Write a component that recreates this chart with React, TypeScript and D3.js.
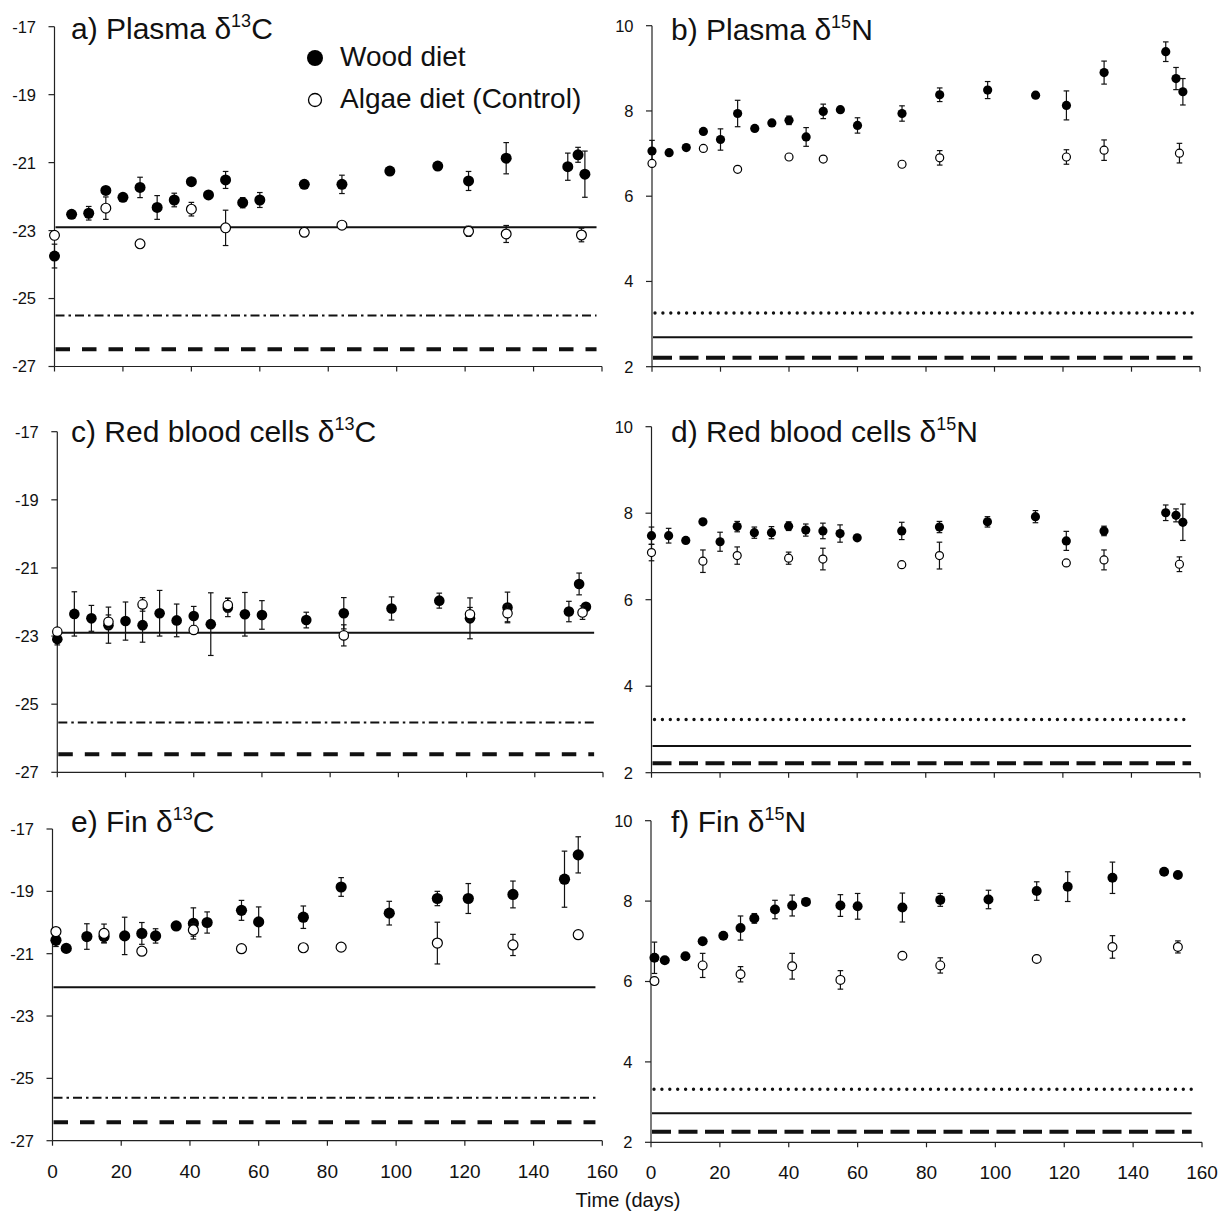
import React from "react";
import * as d3 from "d3";

const W = 1230;
const H = 1214;
const FONT = "'Liberation Sans', Arial, Helvetica, sans-serif";

// ---- sampling days ----
const woodDaysAD = [0, 5, 10, 15, 20, 25, 30, 35, 40, 45, 50, 55, 60, 73, 84, 98, 112, 121, 132, 150, 153, 155];
const algaeDaysAD = [0, 15, 25, 40, 50, 73, 84, 121, 132, 154];
const algaeDaysC = [0, 15, 25, 40, 50, 84, 121, 132, 154];
const woodDaysEF = [1, 4, 10, 15, 21, 26, 30, 36, 41, 45, 55, 60, 73, 84, 98, 112, 121, 134, 149, 153];
const algaeDaysEF = [1, 15, 26, 41, 55, 73, 84, 112, 134, 153];

// ---- ticks ----
const xTicks = [0, 20, 40, 60, 80, 100, 120, 140, 160];
const cTicks = [-27, -25, -23, -21, -19, -17];
const nTicks = [2, 4, 6, 8, 10];

// ---- a) Plasma d13C ----
const plasmaCWood = [-23.75, -22.52, -22.49, -21.82, -22.02, -21.73, -22.32, -22.1, -21.56, -21.95, -21.51, -22.18, -22.1, -21.64, -21.64, -21.25, -21.1, -21.54, -20.87, -21.12, -20.77, -21.34];
const plasmaCWoodErr = [0.35, 0.08, 0.2, 0.1, 0.08, 0.3, 0.35, 0.2, 0.08, 0.06, 0.25, 0.15, 0.22, 0.1, 0.27, 0.05, 0.1, 0.28, 0.46, 0.4, 0.22, 0.68];
const plasmaCAlgae = [-23.14, -22.34, -23.39, -22.37, -22.92, -23.05, -22.84, -23.02, -23.1, -23.13];
const plasmaCAlgaeErr = [0.05, 0.33, 0, 0.2, 0.52, 0, 0.08, 0.15, 0.25, 0.2];
const plasmaCRef = [-22.9, -25.5, -26.49];

// ---- b) Plasma d15N ----
const plasmaNWood = [7.06, 7.02, 7.14, 7.52, 7.33, 7.94, 7.59, 7.72, 7.78, 7.39, 7.99, 8.03, 7.66, 7.94, 8.38, 8.49, 8.37, 8.13, 8.9, 9.39, 8.76, 8.45];
const plasmaNWoodErr = [0.25, 0.08, 0.04, 0.04, 0.25, 0.31, 0.08, 0.08, 0.1, 0.22, 0.17, 0.05, 0.18, 0.18, 0.16, 0.2, 0.04, 0.34, 0.27, 0.23, 0.26, 0.31];
const plasmaNAlgae = [6.77, 7.12, 6.63, 6.92, 6.87, 6.75, 6.9, 6.92, 7.08, 7.01];
const plasmaNAlgaeErr = [0, 0.03, 0.05, 0.08, 0, 0, 0.17, 0.17, 0.24, 0.23];
const plasmaNRef = [3.26, 2.69, 2.21];

// ---- c) RBC d13C ----
const rbcCWood = [-23.09, -22.35, -22.48, -22.68, -22.56, -22.68, -22.33, -22.54, -22.41, -22.65, -22.16, -22.36, -22.38, -22.53, -22.33, -22.19, -21.96, -22.48, -22.16, -22.28, -21.47, -22.14];
const rbcCWoodErr = [0.17, 0.65, 0.38, 0.53, 0.56, 0.5, 0.67, 0.48, 0.28, 0.92, 0.27, 0.64, 0.42, 0.23, 0.46, 0.34, 0.22, 0.6, 0.45, 0.3, 0.32, 0.05];
const rbcCAlgae = [-22.87, -22.58, -22.07, -22.82, -22.09, -22.98, -22.36, -22.33, -22.31];
const rbcCAlgaeErr = [0.1, 0.2, 0.2, 0.12, 0.2, 0.31, 0.2, 0.25, 0.2];
const rbcCRef = [-22.9, -25.54, -26.47];

// ---- d) RBC d15N ----
const rbcNWood = [7.48, 7.48, 7.37, 7.8, 7.34, 7.69, 7.55, 7.55, 7.7, 7.61, 7.59, 7.53, 7.43, 7.59, 7.68, 7.8, 7.92, 7.36, 7.59, 8.01, 7.95, 7.79];
const rbcNWoodErr = [0.2, 0.17, 0.03, 0.06, 0.22, 0.12, 0.13, 0.14, 0.1, 0.14, 0.18, 0.2, 0.03, 0.2, 0.13, 0.12, 0.14, 0.22, 0.11, 0.18, 0.15, 0.42];
const rbcNAlgae = [7.09, 6.89, 7.02, 6.96, 6.94, 6.81, 7.02, 6.85, 6.92, 6.82];
const rbcNAlgaeErr = [0.19, 0.26, 0.2, 0.14, 0.25, 0, 0.31, 0.03, 0.23, 0.17];
const rbcNRef = [3.23, 2.62, 2.22];

// ---- e) Fin d13C ----
const finCWood = [-20.57, -20.83, -20.45, -20.45, -20.43, -20.35, -20.43, -20.11, -20.03, -20.0, -19.61, -19.98, -19.83, -18.86, -19.7, -19.23, -19.23, -19.1, -18.61, -17.83];
const finCWoodErr = [0.2, 0.05, 0.41, 0.2, 0.6, 0.35, 0.23, 0.04, 0.5, 0.34, 0.32, 0.48, 0.36, 0.3, 0.38, 0.23, 0.48, 0.43, 0.9, 0.58];
const finCAlgae = [-20.29, -20.35, -20.92, -20.24, -20.84, -20.81, -20.79, -20.66, -20.72, -20.39];
const finCAlgaeErr = [0, 0.3, 0, 0.2, 0, 0.05, 0.05, 0.67, 0.34, 0.1];
const finCRef = [-22.08, -25.62, -26.41];

// ---- f) Fin d15N ----
const finNWood = [6.59, 6.53, 6.63, 7.0, 7.14, 7.33, 7.57, 7.79, 7.89, 7.98, 7.89, 7.87, 7.84, 8.03, 8.04, 8.25, 8.36, 8.58, 8.73, 8.65];
const finNWoodErr = [0.39, 0.05, 0.03, 0.05, 0.04, 0.3, 0.12, 0.23, 0.26, 0.04, 0.27, 0.32, 0.36, 0.16, 0.23, 0.23, 0.37, 0.39, 0.03, 0.03];
const finNAlgae = [6.01, 6.4, 6.18, 6.38, 6.04, 6.64, 6.4, 6.56, 6.86, 6.86];
const finNAlgaeErr = [0, 0.3, 0.19, 0.32, 0.23, 0, 0.19, 0, 0.28, 0.15];
const finNRef = [3.32, 2.72, 2.26];

const cRefStyles = ["solid", "dashdot", "dashed"];
const nRefStyles = ["dotted", "solid", "dashed"];

type Panel = {
  label: string;
  iso: string;
  el: string;
  x0: number; x1: number; yTop: number; yBot: number;
  tx: number; ty: number;
  domain: [number, number];
  ticks: number[];
  woodDays: number[]; wood: number[]; woodErr: number[];
  algaeDays: number[]; algae: number[]; algaeErr: number[];
  ref: number[]; refStyles: string[]; refEnd: number;
  xLabels: boolean; r: number;
};

const panels: Panel[] = [
  { label: "a) Plasma ", iso: "13", el: "C", x0: 54.5, x1: 602, yTop: 26.7, yBot: 366.5, tx: 71, ty: 39,
    domain: [-27, -17], ticks: cTicks, woodDays: woodDaysAD, wood: plasmaCWood, woodErr: plasmaCWoodErr,
    algaeDays: algaeDaysAD, algae: plasmaCAlgae, algaeErr: plasmaCAlgaeErr, ref: plasmaCRef, refStyles: cRefStyles, refEnd: 158.4, xLabels: false, r: 5.5 },
  { label: "b) Plasma ", iso: "15", el: "N", x0: 652, x1: 1200, yTop: 25.7, yBot: 366.7, tx: 671, ty: 40,
    domain: [2, 10], ticks: nTicks, woodDays: woodDaysAD, wood: plasmaNWood, woodErr: plasmaNWoodErr,
    algaeDays: algaeDaysAD, algae: plasmaNAlgae, algaeErr: plasmaNAlgaeErr, ref: plasmaNRef, refStyles: nRefStyles, refEnd: 157.8, xLabels: false, r: 4.6 },
  { label: "c) Red blood cells ", iso: "13", el: "C", x0: 57.3, x1: 603, yTop: 431.7, yBot: 772.3, tx: 71, ty: 442,
    domain: [-27, -17], ticks: cTicks, woodDays: woodDaysAD, wood: rbcCWood, woodErr: rbcCWoodErr,
    algaeDays: algaeDaysC, algae: rbcCAlgae, algaeErr: rbcCAlgaeErr, ref: rbcCRef, refStyles: cRefStyles, refEnd: 157.4, xLabels: false, r: 5.3 },
  { label: "d) Red blood cells ", iso: "15", el: "N", x0: 651.5, x1: 1200, yTop: 426.7, yBot: 772.7, tx: 671, ty: 442,
    domain: [2, 10], ticks: nTicks, woodDays: woodDaysAD, wood: rbcNWood, woodErr: rbcNWoodErr,
    algaeDays: algaeDaysAD, algae: rbcNAlgae, algaeErr: rbcNAlgaeErr, ref: rbcNRef, refStyles: nRefStyles, refEnd: 157.4, xLabels: false, r: 4.6 },
  { label: "e) Fin ", iso: "13", el: "C", x0: 52.5, x1: 602.3, yTop: 829, yBot: 1140.7, tx: 71, ty: 832,
    domain: [-27, -17], ticks: cTicks, woodDays: woodDaysEF, wood: finCWood, woodErr: finCWoodErr,
    algaeDays: algaeDaysEF, algae: finCAlgae, algaeErr: finCAlgaeErr, ref: finCRef, refStyles: cRefStyles, refEnd: 158, xLabels: true, r: 5.6 },
  { label: "f) Fin ", iso: "15", el: "N", x0: 651, x1: 1202, yTop: 820.7, yBot: 1142.3, tx: 671, ty: 832,
    domain: [2, 10], ticks: nTicks, woodDays: woodDaysEF, wood: finNWood, woodErr: finNWoodErr,
    algaeDays: algaeDaysEF, algae: finNAlgae, algaeErr: finNAlgaeErr, ref: finNRef, refStyles: nRefStyles, refEnd: 157, xLabels: true, r: 5 },
];

function refStyle(kind: string, right: boolean) {
  switch (kind) {
    case "solid": return { strokeWidth: 2, dash: undefined };
    case "dashdot": return { strokeWidth: 2, dash: "9,4,2.5,4" };
    case "dashed": return { strokeWidth: 4, dash: right ? "19,7.5" : "14.5,12" };
    case "dotted": return { strokeWidth: 3.4, dash: "0,7.9", cap: "round" };
    default: return { strokeWidth: 1.5, dash: undefined };
  }
}

function PanelView({ p }: { p: Panel }) {
  const x = d3.scaleLinear().domain([0, 160]).range([p.x0, p.x1]);
  const y = d3.scaleLinear().domain(p.domain).range([p.yBot, p.yTop]);
  const right = p.el === "N";
  const cap = 2.8;
  const bar = (cx: number, v: number, e: number, k: string) => {
    const y1 = y(v + e), y2 = y(v - e);
    if (y2 - y1 < 2 * p.r - 1) return null;
    return (
      <g key={k} stroke="#111" strokeWidth={1.2} fill="none">
        <line x1={cx} x2={cx} y1={y1} y2={y2} />
        <line x1={cx - cap} x2={cx + cap} y1={y1} y2={y1} />
        <line x1={cx - cap} x2={cx + cap} y1={y2} y2={y2} />
      </g>
    );
  };
  return (
    <g fontFamily={FONT}>
      {p.ref.map((v, i) => {
        const st: any = refStyle(p.refStyles[i], right);
        return (
          <line key={"r" + i} x1={x(0) + (st.cap ? 3 : 1)} x2={x(p.refEnd)} y1={y(v)} y2={y(v)}
            stroke="#111" strokeWidth={st.strokeWidth} strokeDasharray={st.dash} strokeLinecap={st.cap || "butt"} />
        );
      })}
      <line x1={p.x0} x2={p.x0} y1={p.yTop} y2={p.yBot} stroke="#222" strokeWidth={1.2} />
      <line x1={p.x0} x2={p.x1} y1={p.yBot} y2={p.yBot} stroke="#222" strokeWidth={1.2} />
      {p.ticks.map((t) => (
        <g key={"yt" + t}>
          <line x1={p.x0 - 6} x2={p.x0} y1={y(t)} y2={y(t)} stroke="#222" strokeWidth={1.2} />
          <text x={p.x0 - 18.5} y={y(t)} dy="0.36em" textAnchor="end" fontSize={16.5} fill="#111">{String(t)}</text>
        </g>
      ))}
      {xTicks.map((t) => (
        <g key={"xt" + t}>
          <line x1={x(t)} x2={x(t)} y1={p.yBot} y2={p.yBot + 5} stroke="#222" strokeWidth={1.2} />
          {p.xLabels && (
            <text x={x(t)} y={p.yBot + 37} textAnchor="middle" fontSize={19} fill="#111">{String(t)}</text>
          )}
        </g>
      ))}
      {p.wood.map((v, i) => bar(x(p.woodDays[i]), v, p.woodErr[i], "we" + i))}
      {p.wood.map((v, i) => (
        <circle key={"w" + i} cx={x(p.woodDays[i])} cy={y(v)} r={p.r} fill="#000" />
      ))}
      {p.algae.map((v, i) => bar(x(p.algaeDays[i]), v, p.algaeErr[i], "ae" + i))}
      {p.algae.map((v, i) => (
        <circle key={"a" + i} cx={x(p.algaeDays[i])} cy={y(v)} r={p.r - 0.6} fill="#fff" stroke="#000" strokeWidth={1.2} />
      ))}
      <text x={p.tx} y={p.ty} fontSize={30} fill="#111">
        {p.label}δ<tspan dy={-12} fontSize={18}>{p.iso}</tspan><tspan dy={12}>{p.el}</tspan>
      </text>
    </g>
  );
}

export default function App() {
  return (
    <div style={{ position: "absolute", left: 0, top: 0, width: W, height: H, background: "#fff" }}>
      <svg width={W} height={H} viewBox={`0 0 ${W} ${H}`} style={{ display: "block" }}>
        <rect width={W} height={H} fill="#fff" />
        {panels.map((p, i) => <PanelView key={i} p={p} />)}
        <g fontFamily={FONT} fontSize={28} fill="#111">
          <circle cx={315} cy={58} r={8} fill="#000" />
          <text x={340} y={66}>Wood diet</text>
          <circle cx={315} cy={100} r={6.5} fill="#fff" stroke="#000" strokeWidth={1.3} />
          <text x={340} y={108}>Algae diet (Control)</text>
        </g>
        <text x={628} y={1207} textAnchor="middle" fontSize={20} fontFamily={FONT} fill="#111">Time (days)</text>
      </svg>
    </div>
  );
}
